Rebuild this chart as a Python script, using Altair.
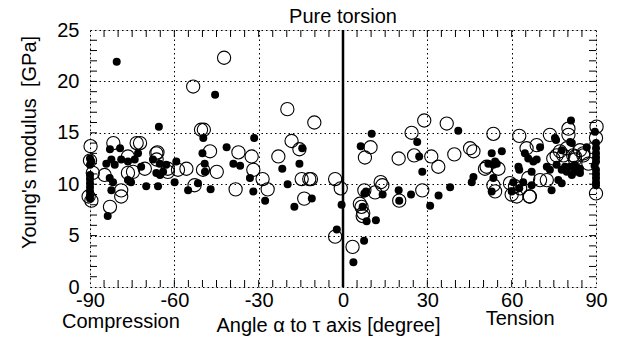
import altair as alt
import pandas as pd

# Filled dots (angle in degrees, Young's modulus in GPa)
filled_x = [-80.5, -45.5, -65.5, -49.7, -31.6, -41.4, -50.0, -82.9, -79.3, -39.0, -36.6,
            -90, -90, -90, -90, -90, -90, -90, -90, -90, -89.5,
            -84.2, -82.4, -81.2, -78.9, -76.5, -74.1, -72.9, -83.0, -81.8, -82.4, -76.5, -71.8, -70.0, -65.8,
            -67.6, -65.2, -62.9, -64.0, -66.4, -59.3, -59.9, -55.1, -51.6, -49.2, -83.7,
            -75.4, -47.1, -31.9, -27.7, -33.1, -49.1, -65.1,
            -14.5, -15.5, -21.6, -19.7, -11.1, -17.3, -0.5, -2.2, 3.7, 7.5, 8.4, 11.7, 7.0, 7.6, 8.2, 14.1,
            19.8, 20.0, 24.2, 28.2, 31.0, 34.0, 38.1, 27.1,
            41.0, 26.4, 10.2, 6.3, 46.4, 45.8,
            52.9, 56.5, 53.5, 54.7, 64.7, 70.1, 65.9, 62.4, 75.4, 81.1, 81.4, 77.8, 86.7, 89.6,
            75.8, 80.8, 67.7, 68.9, 72.5, 73.6, 76.0, 77.8, 79.0, 80.8, 82.5, 84.3,
            51.7, 54.1, 53.5, 62.7, 67.1, 60.6, 64.1, 67.1, 60.0, 62.7, 74.2, 76.6, 77.8, 79.6, 81.4, 82.5, 84.3, 52.9,
            90, 90, 90, 90, 90, 89.5, 90, 90, 90, 90, 90]
filled_y = [21.9, 18.7, 15.6, 14.5, 14.5, 13.6, 13.0, 13.4, 13.5, 12.0, 11.8,
            12.5, 11.9, 10.9, 10.5, 10.1, 9.7, 9.3, 8.9, 8.6, 12.2,
            12.0, 12.4, 11.9, 12.4, 12.2, 12.4, 13.0, 10.6, 10.2, 9.4, 10.4, 11.7, 9.8, 9.8,
            12.4, 12.0, 11.9, 11.2, 11.1, 12.2, 10.2, 9.4, 10.1, 12.0, 6.9,
            10.2, 9.5, 9.3, 8.4, 10.6, 11.2, 10.9,
            13.5, 12.0, 11.5, 10.0, 8.6, 7.8, 8.0, 5.6, 2.4, 4.5, 6.4, 6.5, 7.8, 9.1, 9.3, 9.0,
            9.4, 8.4, 9.0, 11.2, 7.9, 8.9, 9.7, 12.7,
            15.2, 14.1, 14.9, 13.7, 10.7, 10.2,
            13.0, 13.2, 11.9, 12.0, 13.0, 13.6, 12.5, 11.7, 14.5, 16.2, 14.0, 13.3, 13.6, 15.1,
            14.3, 14.1, 12.2, 12.4, 11.7, 11.4, 11.9, 11.4, 11.7, 11.7, 11.9, 11.5,
            12.0, 12.2, 10.6, 11.4, 11.2, 10.2, 10.2, 9.9, 9.3, 9.6, 9.4, 10.4, 10.1, 11.2, 10.9, 11.2, 11.1, 9.3,
            14.0, 13.5, 13.0, 12.6, 12.2, 11.8, 11.4, 11.0, 10.6, 10.2, 9.9]

# Open circles
open_x = [-42.3, -53.3, -50.5, -49.5, -89.8, -81.7, -73.4, -72.2, -66.0, -37.2, -32.5, -47.3,
          -90, -89, -90.5, -89.5,
          -76.5, -74.7, -84.8, -78.9, -78.9, -76.5, -70.5, -66.4, -62.3, -55.7, -58.7, -52.8, -49.8, -82.9,
          -38.2, -31.9, -28.6, -44.9, -66.3, -62.3,
          -19.8, -10.2, -18.3, -15.5, -23.0, -14.7, -12.0, -11.4, -2.8, -0.8, -26.8, -13.8, -2.8, 3.4,
          7.2, 6.0, 6.6, 7.0, 7.6, 11.4, 13.4, 14.0, 20.0, 28.2, 7.8, 19.8, 25.3, 31.4, 33.9, 39.6,
          28.9, 36.9, 24.4, 9.8, 45.2, 46.4,
          53.5, 62.7, 51.1, 65.3, 68.9, 73.6, 80.2, 80.2, 79.6, 76.0, 84.3, 85.5, 82.5, 90.2, 90.0,
          74.8, 77.2, 78.4, 81.9, 82.5, 85.5, 87.3, 50.5, 55.3, 53.5, 54.1, 65.9, 70.1, 59.4, 61.2, 63.0,
          60.0, 66.5, 72.5, 90.0, 61.8, 66.3]
open_y = [22.3, 19.5, 15.3, 15.3, 13.7, 14.0, 14.0, 14.0, 13.1, 13.1, 12.7, 13.2,
          12.3, 11.1, 8.8, 8.4,
          12.7, 11.2, 10.9, 9.4, 8.8, 11.1, 11.5, 13.0, 11.5, 11.5, 11.4, 9.9, 11.4, 7.8,
          9.5, 11.4, 10.5, 11.2, 12.4, 11.2,
          17.3, 16.0, 14.2, 13.4, 12.7, 10.5, 10.5, 10.5, 10.5, 9.6, 9.5, 8.6, 4.9, 3.9,
          7.2, 8.1, 7.8, 6.9, 9.4, 9.2, 10.2, 9.9, 8.4, 9.4, 12.6, 12.5, 12.8, 12.7, 11.7, 12.9,
          16.2, 15.9, 15.0, 13.6, 13.5, 13.2,
          14.9, 14.7, 11.7, 13.5, 13.8, 14.8, 15.4, 14.8, 13.5, 12.8, 13.3, 13.0, 12.7, 15.6, 14.5,
          12.5, 13.2, 12.8, 12.8, 12.4, 12.8, 12.0, 11.5, 11.5, 9.9, 9.3, 10.6, 10.4, 10.1, 9.8, 9.6,
          9.0, 8.8, 10.4, 9.1, 8.8, 8.8]

x_ticks = [-90, -60, -30, 0, 30, 60, 90]
y_ticks = [0, 5, 10, 15, 20, 25]
x_minor = list(range(-85, 90, 5))
y_minor = list(range(1, 25))
side_labels = ["Compression", "Tension"]
side_label_x = [-79, 63]
side_label_dy = [41, 38]

FONT = "Liberation Sans"
FS = 20
W, H = 506, 257

xs = alt.Scale(domain=[-90, 90], nice=False, zero=False)
ys = alt.Scale(domain=[0, 25], nice=False, zero=False)

df_f = pd.DataFrame({"a": filled_x, "E": filled_y})
df_o = pd.DataFrame({"a": open_x, "E": open_y})

base_x = alt.X("a:Q", scale=xs,
               axis=alt.Axis(values=x_ticks, title="Angle α to τ axis [degree]", tickSize=0,
                             domain=False, labelFontSize=FS, labelFont=FONT, labelColor="black",
                             labelExpr="'' + datum.value",
                             labelPadding=3, titleFont=FONT, titleFontSize=FS, titleFontWeight="normal",
                             titleColor="black", titleX=238, titlePadding=5,
                             grid=True, gridDash=[1.5, 3], gridColor="black", gridWidth=1,
                             labelFlush=False))
base_y = alt.Y("E:Q", scale=ys,
               axis=alt.Axis(values=y_ticks, title="Young's modulus\u00a0\u00a0[GPa]", tickSize=0,
                             domain=False, labelFontSize=FS, labelFont=FONT, labelColor="black",
                             labelPadding=11, titleFont=FONT, titleFontSize=FS, titleFontWeight="normal",
                             titleColor="black", titlePadding=17, titleY=112,
                             grid=True, gridDash=[1.5, 3], gridColor="black", gridWidth=1))

open_layer = alt.Chart(df_o).mark_point(shape="circle", filled=False, stroke="black",
                                        strokeWidth=1.1, size=175, opacity=1).encode(x=base_x, y=base_y)
filled_layer = alt.Chart(df_f).mark_circle(color="black", size=64, opacity=1).encode(
    x=alt.X("a:Q", scale=xs), y=alt.Y("E:Q", scale=ys))

zero_line = alt.Chart(pd.DataFrame({"a": [0]})).mark_rule(color="black", strokeWidth=2.5).encode(
    x=alt.X("a:Q", scale=xs), y=alt.value(0), y2=alt.value(H))

dfx = pd.DataFrame({"a": x_minor})
tick_bottom = alt.Chart(dfx).mark_rule(color="black", strokeWidth=1).encode(
    x=alt.X("a:Q", scale=xs), y=alt.value(H), y2=alt.value(H - 7))
tick_top = alt.Chart(dfx).mark_rule(color="black", strokeWidth=1).encode(
    x=alt.X("a:Q", scale=xs), y=alt.value(0), y2=alt.value(7))
dfy = pd.DataFrame({"E": y_minor})
tick_left = alt.Chart(dfy).mark_rule(color="black", strokeWidth=1).encode(
    y=alt.Y("E:Q", scale=ys), x=alt.value(0), x2=alt.value(7))
tick_right = alt.Chart(dfy).mark_rule(color="black", strokeWidth=1).encode(
    y=alt.Y("E:Q", scale=ys), x=alt.value(W), x2=alt.value(W - 7))

side_df = pd.DataFrame({"a": side_label_x, "t": side_labels, "dy": side_label_dy})
side_c = alt.Chart(side_df.iloc[[0]]).mark_text(
    font=FONT, fontSize=FS, color="black", baseline="alphabetic", align="center").encode(
    x=alt.X("a:Q", scale=xs), y=alt.value(H + side_label_dy[0]), text="t:N")
side_t = alt.Chart(side_df.iloc[[1]]).mark_text(
    font=FONT, fontSize=FS, color="black", baseline="alphabetic", align="center").encode(
    x=alt.X("a:Q", scale=xs), y=alt.value(H + side_label_dy[1]), text="t:N")

chart = alt.layer(open_layer, filled_layer, zero_line, tick_bottom, tick_top, tick_left,
                  tick_right, side_c, side_t).properties(
    width=W, height=H,
    title=alt.TitleParams("Pure torsion", font=FONT, fontSize=FS, fontWeight="normal",
                          color="black", anchor="middle", offset=-7),
    autosize=alt.AutoSizeParams(type="none"),
    padding={"left": 90, "top": 30, "right": 33, "bottom": 60},
).configure_view(stroke="black", strokeWidth=1.5).configure(background="white")

chart.save("out.html", embed_options={"renderer": "svg", "actions": False})
